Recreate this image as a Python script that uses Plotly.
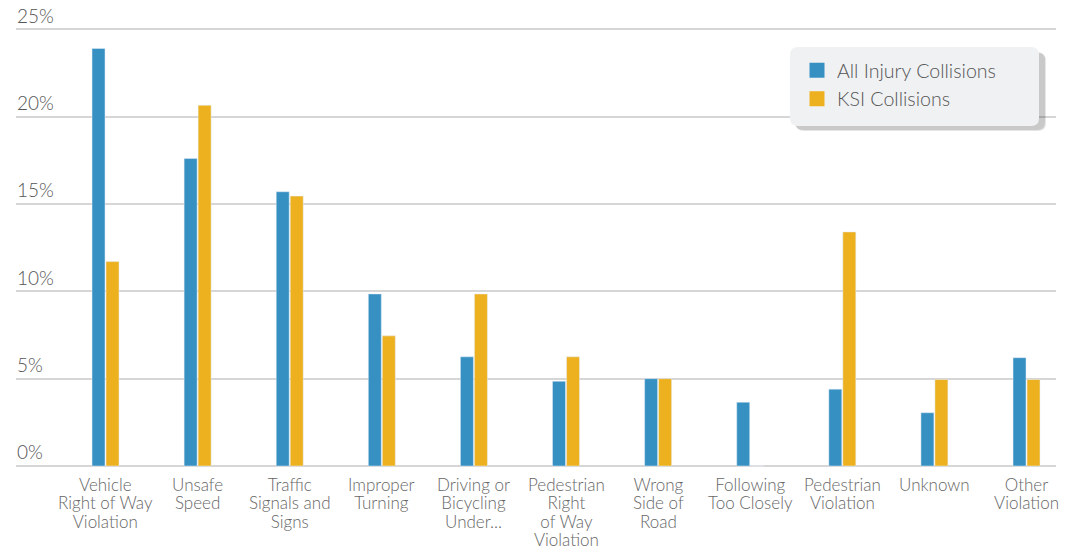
import plotly.graph_objects as go

categories = ["Vehicle Right of Way Violation", "Unsafe Speed", "Traffic Signals and Signs",
              "Improper Turning", "Driving or Bicycling Under...", "Pedestrian Right of Way Violation",
              "Wrong Side of Road", "Following Too Closely", "Pedestrian Violation", "Unknown",
              "Other Violation"]
tick_label_lines = [["Vehicle", "Right of Way", "Violation"], ["Unsafe", "Speed"],
                    ["Traffic", "Signals and", "Signs"], ["Improper", "Turning"],
                    ["Driving or", "Bicycling", "Under..."], ["Pedestrian", "Right", "of Way", "Violation"],
                    ["Wrong", "Side of", "Road"], ["Following", "Too Closely"],
                    ["Pedestrian", "Violation"], ["Unknown"], ["Other", "Violation"]]
all_injury = [23.9, 17.6, 15.7, 9.85, 6.25, 4.85, 5.0, 3.65, 4.4, 3.05, 6.2]
ksi = [11.7, 20.65, 15.45, 7.45, 9.85, 6.25, 5.0, 0.0, 13.4, 4.95, 4.95]
y_ticks = [0, 5, 10, 15, 20, 25]
y_tick_labels = ["0%", "5%", "10%", "15%", "20%", "25%"]

BLUE = "#3690C2"
ORANGE = "#EDB120"
FONT = "Lato"

W, H = 1072, 550
L, R, T, B = 16, 16, 1, 79
pw, ph = W - L - R, H - T - B
PPU = (466 - 29.3) / 25.0          # pixels per percentage point
Y_TOP = 25 + (29.3 - T) / PPU
Y_BOT = -((H - B) - 466) / PPU

xidx = list(range(len(categories)))

fig = go.Figure()
fig.add_trace(go.Bar(x=xidx, y=all_injury, name="All Injury Collisions", marker_color=BLUE,
                     width=0.141, offset=-0.1466, showlegend=False, hoverinfo="skip"))
fig.add_trace(go.Bar(x=xidx, y=ksi, name="KSI Collisions", marker_color=ORANGE,
                     width=0.141, offset=0.0054, showlegend=False, hoverinfo="skip"))
# legend proxies with square swatches
fig.add_trace(go.Scatter(x=[None], y=[None], mode="markers", name="All Injury Collisions",
                         marker=dict(symbol="square", size=15, color=BLUE), showlegend=True))
fig.add_trace(go.Scatter(x=[None], y=[None], mode="markers", name="KSI Collisions",
                         marker=dict(symbol="square", size=15, color=ORANGE), showlegend=True))


def px2paper(px, py):
    return (px - L) / pw, (H - B - py) / ph


def rounded_rect(x0, y0, x1, y1, r):
    def p(x, y):
        a, b = px2paper(x, y)
        return f"{a:.5f},{b:.5f}"
    return (f"M{p(x0 + r, y0)} L{p(x1 - r, y0)} Q{p(x1, y0)} {p(x1, y0 + r)} "
            f"L{p(x1, y1 - r)} Q{p(x1, y1)} {p(x1 - r, y1)} "
            f"L{p(x0 + r, y1)} Q{p(x0, y1)} {p(x0, y1 - r)} "
            f"L{p(x0, y0 + r)} Q{p(x0, y0)} {p(x0 + r, y0)} Z")


shapes = [
    dict(type="path", xref="paper", yref="paper", path=rounded_rect(796, 53, 1046, 131, 8),
         fillcolor="rgba(0,0,0,0.10)", line=dict(width=0), layer="above"),
    dict(type="path", xref="paper", yref="paper", path=rounded_rect(795, 52, 1045, 130, 8),
         fillcolor="rgba(0,0,0,0.12)", line=dict(width=0), layer="above"),
    dict(type="path", xref="paper", yref="paper", path=rounded_rect(790, 47, 1039, 126, 8),
         fillcolor="#F0F1F3", line=dict(width=0), layer="above"),
]

# category labels: one multi-line text per category; base size sets the (tighter) line
# spacing, inner span sets the glyph size
annotations = []
for i, lines in enumerate(tick_label_lines):
    txt = "<br>".join(f"<span style='font-size:17px'>{ln}</span>" for ln in lines)
    annotations.append(dict(x=i, y=0, xref="x", yref="y", text=txt, showarrow=False,
                            xanchor="center", yanchor="top", yshift=-5.5, align="center",
                            font=dict(family=FONT, size=14.08, color="#666666", weight=300)))

lx, ly = px2paper(797, 51)

fig.update_layout(
    width=W, height=H,
    margin=dict(l=L, r=R, t=T, b=B, pad=0),
    paper_bgcolor="white", plot_bgcolor="white",
    barmode="overlay",
    font=dict(family=FONT, color="#555555"),
    shapes=shapes,
    annotations=annotations,
    showlegend=True,
    legend=dict(x=lx, y=ly, xanchor="left", yanchor="top", bgcolor="rgba(0,0,0,0)",
                borderwidth=0, font=dict(family=FONT, size=19.6, color="#555555", weight=300),
                itemsizing="trace", tracegroupgap=0),
    xaxis=dict(range=[-0.972, 10.32], tickmode="array", tickvals=xidx, showticklabels=False,
               showgrid=False, zeroline=False, showline=False, automargin=False, ticks="",
               fixedrange=True),
    yaxis=dict(range=[Y_BOT, Y_TOP], tickmode="array", tickvals=y_ticks, ticktext=y_tick_labels,
               showgrid=True, gridcolor="#D6D6D6", gridwidth=1.5, zeroline=False, showline=False,
               ticklabelposition="inside top", ticks="", automargin=False, ticklabelstandoff=-2,
               tickfont=dict(family=FONT, size=19, color="#555555", weight=300), fixedrange=True),
)

fig.write_html("out.html")
